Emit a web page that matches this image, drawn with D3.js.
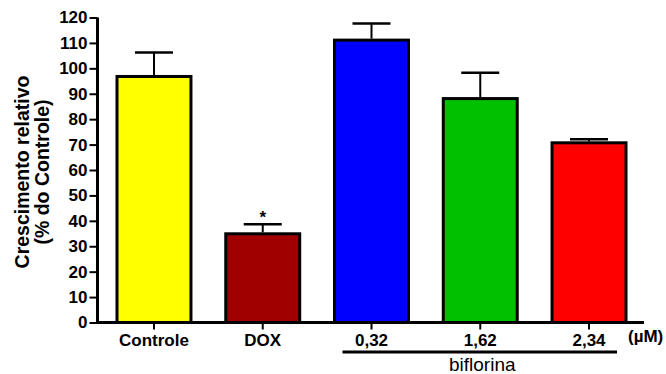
<!DOCTYPE html>
<html lang="pt">
<head>
<meta charset="UTF-8">
<title>Crescimento relativo</title>
<script src="https://d3js.org/d3.v7.min.js"></script>
<style>
    body { margin: 0; background: #ffffff; }
    text { font-family: Arial, "Liberation Sans", sans-serif; fill: #000; }
</style>
</head>
<body>
<svg id="chart" width="666" height="374"></svg>
<script>
    // values
    const categories = ["Controle", "DOX", "0,32", "1,62", "2,34"];
    const means = [96.8, 34.9, 111.1, 88.1, 70.7];
    const sems = [9.4, 3.8, 6.5, 10.2, 1.4];
    const colors = ["#ffff00", "#a00000", "#0000ff", "#00c000", "#ff0000"];
    const yTicks = [0, 10, 20, 30, 40, 50, 60, 70, 80, 90, 100, 110, 120];
    const marked = ["DOX"]; // significant vs control
    const groupLabel = "biflorina";
    const unitLabel = "(\u00b5M)";

    const data = categories.map((c, i) => ({ cat: c, mean: means[i], sem: sems[i], color: colors[i] }));

    const svg = d3.select("#chart");

    const x = d3.scaleBand()
        .domain(categories)
        .range([99.6, 643.4])
        .paddingInner(0.32)
        .paddingOuter(0.16);

    const y = d3.scaleLinear()
        .domain([0, 120])
        .range([322.5, 17.5]);

    // bars
    svg.selectAll("rect.bar")
        .data(data)
        .enter()
        .append("rect")
        .attr("class", "bar")
        .attr("x", d => x(d.cat))
        .attr("y", d => y(d.mean))
        .attr("width", x.bandwidth())
        .attr("height", d => y(0) - y(d.mean))
        .attr("fill", d => d.color)
        .attr("stroke", "#000")
        .attr("stroke-width", 3);

    // error bars (upper only)
    const capW = 38;
    const err = svg.selectAll("g.err")
        .data(data)
        .enter()
        .append("g")
        .attr("class", "err");

    err.append("line")
        .attr("x1", d => x(d.cat) + x.bandwidth() / 2)
        .attr("x2", d => x(d.cat) + x.bandwidth() / 2)
        .attr("y1", d => y(d.mean) - 1.5)
        .attr("y2", d => y(d.mean + d.sem))
        .attr("stroke", "#000")
        .attr("stroke-width", 2);

    err.append("line")
        .attr("x1", d => x(d.cat) + x.bandwidth() / 2 - capW / 2)
        .attr("x2", d => x(d.cat) + x.bandwidth() / 2 + capW / 2)
        .attr("y1", d => y(d.mean + d.sem))
        .attr("y2", d => y(d.mean + d.sem))
        .attr("stroke", "#000")
        .attr("stroke-width", 2.5);

    // significance star
    svg.selectAll("text.star")
        .data(data.filter(d => marked.includes(d.cat)))
        .enter()
        .append("text")
        .attr("class", "star")
        .attr("x", d => x(d.cat) + x.bandwidth() / 2)
        .attr("y", d => y(d.mean + d.sem) - 1)
        .attr("text-anchor", "middle")
        .style("font-size", "17px")
        .style("font-weight", "bold")
        .text("*");

    // y axis
    const yAxis = svg.append("g")
        .attr("transform", "translate(97.5,0)")
        .call(d3.axisLeft(y).tickValues(yTicks).tickSize(8).tickPadding(2));
    yAxis.select(".domain").attr("stroke-width", 3).attr("d", `M0,${y(120)}V${y(0) + 1.5}`);
    yAxis.selectAll(".tick line").attr("stroke-width", 2);
    yAxis.selectAll(".tick text")
        .style("font-size", "17px")
        .style("font-weight", "bold")
        .style("font-family", "Arial, 'Liberation Sans', sans-serif");

    // x axis
    const xAxis = svg.append("g")
        .attr("transform", `translate(0,${y(0)})`)
        .call(d3.axisBottom(x).tickSize(7).tickPadding(4));
    xAxis.select(".domain").attr("stroke-width", 3).attr("d", "M96,0H644");
    xAxis.selectAll(".tick line").attr("stroke-width", 2);
    xAxis.selectAll(".tick text")
        .attr("dy", "0.71em")
        .style("font-size", "17px")
        .style("font-weight", "bold")
        .style("font-family", "Arial, 'Liberation Sans', sans-serif");

    // unit
    svg.append("text")
        .attr("x", 628)
        .attr("y", 342)
        .style("font-size", "17px")
        .style("font-weight", "bold")
        .text(unitLabel);

    // group bracket
    const g0 = x("0,32"), g1 = x("2,34") + x.bandwidth();
    svg.append("line")
        .attr("x1", g0 + 8).attr("x2", g1 - 9)
        .attr("y1", 352).attr("y2", 352)
        .attr("stroke", "#000")
        .attr("stroke-width", 3);
    svg.append("text")
        .attr("x", (g0 + g1) / 2 + 2)
        .attr("y", 371)
        .attr("text-anchor", "middle")
        .style("font-size", "19px")
        .text(groupLabel);

    // y title
    const title = svg.append("text")
        .attr("transform", "translate(29,172) rotate(-90)")
        .attr("text-anchor", "middle")
        .style("font-size", "19.5px")
        .style("font-weight", "bold");
    title.append("tspan").attr("x", 0).attr("y", 0).text("Crescimento relativo");
    title.append("tspan").attr("x", 0).attr("y", 20).text("(% do Controle)");
</script>
</body>
</html>
